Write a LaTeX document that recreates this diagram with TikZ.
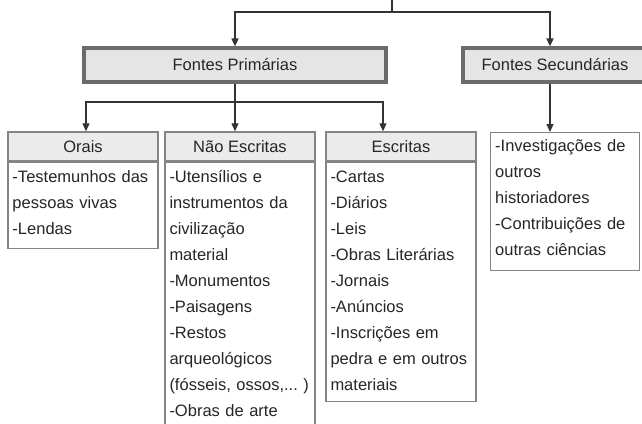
\documentclass[tikz,border=0pt]{standalone}
\usepackage{fontspec}
\setmainfont{Liberation Sans}
\usetikzlibrary{arrows.meta,positioning}

\begin{document}
\begin{tikzpicture}[x=1pt,y=-1pt,
		font=\fontsize{16.5}{26}\selectfont,text=black!85,
		fonte/.style={draw=black!58,line width=3.2pt,fill=black!10,minimum height=34pt,inner sep=0pt},
		cabec/.style={draw=black!48,line width=1.4pt,fill=black!8,minimum width=150pt,minimum height=29pt,inner sep=0pt},
		corpo/.style={draw=black!48,line width=1.4pt,fill=white,align=left,text width=141pt,inner xsep=4.5pt,inner ysep=0pt,text height=20pt},
		linha/.style={draw=black!80,line width=1.2pt},
		seta/.style={linha,-{Triangle[width=7pt,length=8pt]}}]
		\useasboundingbox (0,0) rectangle (642,423);
		\clip (0,0) rectangle (642,423);

		\node[fonte,minimum width=302pt] (prim) at (235,65) {Fontes Primárias};
		\node[fonte,minimum width=184pt] (sec) at (555,65) {Fontes Secundárias};

		\node[cabec] (orais) at (83,146.5) {Orais};
		\node[cabec] (naoesc) at (240,146.5) {Não Escritas};
		\node[cabec] (escr) at (401,146.5) {Escritas};

		\node[corpo,below=0pt of orais,text depth=66pt] (oraisc) {-Testemunhos das\\pessoas vivas\\-Lendas};
		\node[corpo,below=0pt of naoesc,text depth=270pt] (naoescc) {-Utensílios e\\instrumentos da\\civilização\\material\\-Monumentos\\-Paisagens\\-Restos\\arqueológicos\\(fósseis, ossos,...~)\\-Obras de arte};
		\node[corpo,below=0pt of escr,text depth=219pt] (escrc) {-Cartas\\-Diários\\-Leis\\-Obras Literárias\\-Jornais\\-Anúncios\\-Inscrições em\\pedra e em outros\\materiais};
		\node[corpo,anchor=north west,text width=140pt,text height=19pt,text depth=119pt] (secc) at (490,132) {-Investigações de\\outros\\historiadores\\-Contribuições de\\outras ciências};

		\coordinate (topo) at (392,0);
		\coordinate (juncao) at (392,12);
		\coordinate (ramo) at (235,102);
		\draw[linha,line width=1.6pt] (topo) -- (juncao);
		\draw[seta,line width=1.6pt] (juncao) -| (prim.north);
		\draw[seta,line width=1.6pt] (juncao) -| ([xshift=-5pt]sec.north);
		\draw[seta] (prim.south) -- (prim.south |- naoesc.north);
		\draw[seta] (ramo) -| ([xshift=3pt]orais.north);
		\draw[seta] (ramo) -| ([xshift=-18pt]escr.north);
		\draw[seta] ([xshift=-5pt]sec.south) -- ([xshift=-5pt]sec.south |- secc.north);
	\end{tikzpicture}
\end{document}
